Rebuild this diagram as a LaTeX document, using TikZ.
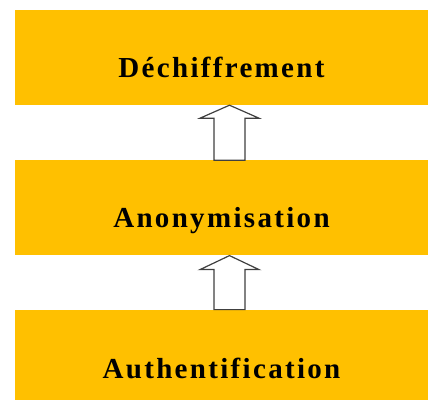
\documentclass[tikz,border=0pt]{standalone}
\usepackage{fontspec}
\setmainfont{Liberation Serif}
\usetikzlibrary{positioning, calc}
\definecolor{StepGold}{HTML}{FFC000}
\newfontfamily\stepfont[LetterSpace=8]{Liberation Serif}
\tikzset{
    stagebox/.style={rectangle, minimum width=413pt, minimum height=95pt, inner sep=0pt,
        text height=40pt, text depth=0pt, fill=StepGold, draw=none,
        font=\stepfont\bfseries\fontsize{29}{34}\selectfont},
    hollowarrow/.style={draw=black!75, line width=1.2pt, fill=white, line join=miter},
}
\begin{document}
\begin{tikzpicture}[x=1pt, y=1pt]
    \useasboundingbox (0,0) rectangle (428,399);

    % Stages, top to bottom
    \node[stagebox] (decrypt) at (221.5,341.5) {Déchiffrement};
    \node[stagebox, below=55pt of decrypt] (anon) {Anonymisation};
    \node[stagebox, minimum height=112pt, text height=26pt, below=54pt of anon] (auth) {Authentification};

    % Hollow arrows between the stages
    \draw[hollowarrow] ([xshift=-7.5pt]anon.north) -- ++(0,42) -- ++(-14,0)
        -- ([xshift=8pt]decrypt.south) -- ++(29.5,-13) -- ++(-14,0) -- ++(0,-42) -- cycle;
    \draw[hollowarrow] ([xshift=-7.5pt]auth.north) -- ++(0,40) -- ++(-14,0)
        -- ([xshift=8pt]anon.south) -- ++(29.5,-14) -- ++(-14,0) -- ++(0,-40) -- cycle;
\end{tikzpicture}
\end{document}
